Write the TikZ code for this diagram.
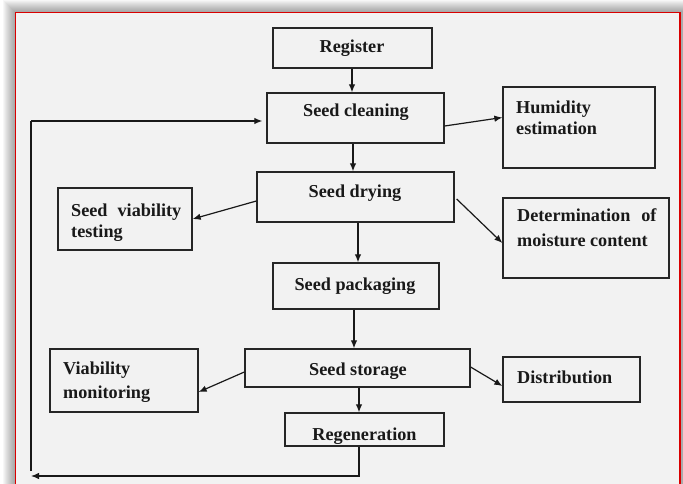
\documentclass[tikz,border=0pt]{standalone}
\usepackage{fontspec}
\setmainfont{Liberation Serif}
\usetikzlibrary{arrows.meta}
\begin{document}
\begin{tikzpicture}[x=1pt,y=-1pt,
  box/.style={draw=black!85, line width=1.3pt, fill=none, inner sep=0pt, minimum width=#1},
  lbl/.style={font=\fontsize{18.2}{22}\selectfont\bfseries, text=black!90, inner sep=0pt},
  arr/.style={draw=black!90, line width=1.2pt, -{Latex[length=8pt,width=6.5pt]}},
  ln/.style={draw=black!90, line width=1.2pt}]
\useasboundingbox (0,0) rectangle (683,484);
% outer shadow
\fill[white] (0,0) rectangle (683,484);
\foreach \i in {1,...,12} {\fill[black, opacity=0.03] (15-\i,12-\i) rectangle (690,500);}
% paper
\fill[black!5] (15,12) rectangle (680,490);
\draw[red!85!black, line width=1.5pt] (15.5,490) -- (15.5,12.5) -- (680,12.5) -- (680,490);
% boxes
\node[box=159pt, minimum height=40pt] (reg) at (352.5,48) {};
\node[box=177pt, minimum height=50pt] (clean) at (355.5,118) {};
\node[box=152pt, minimum height=81pt] (hum) at (579,127.5) {};
\node[box=197pt, minimum height=50pt] (dry) at (355.5,197) {};
\node[box=134pt, minimum height=62pt] (via) at (125,219) {};
\node[box=166pt, minimum height=80pt] (det) at (586,238) {};
\node[box=166pt, minimum height=46pt] (pack) at (356,286) {};
\node[box=225pt, minimum height=38pt] (stor) at (357.5,368) {};
\node[box=148pt, minimum height=63pt] (mon) at (124,380.5) {};
\node[box=137pt, minimum height=45pt] (dist) at (571.5,379.5) {};
\node[box=159pt, minimum height=33pt] (regen) at (364.5,429.5) {};
% labels
\node[lbl, anchor=base] (treg) at (352,53) {Register};
\node[lbl, anchor=base] (tclean) at (356,117) {Seed cleaning};
\node[lbl, anchor=base west] (thum1) at (516,114) {Humidity};
\node[lbl, anchor=base west] (thum2) at (516,135) {estimation};
\node[lbl, anchor=base] (tdry) at (355,197) {Seed drying};
\node[lbl, anchor=base west] (tvia1) at (71,216) {Seed\hspace{0.55em}viability};
\node[lbl, anchor=base west] (tvia2) at (71,237) {testing};
\node[lbl, anchor=base west] (tdet1) at (517,222) {Determination\hspace{0.6em}of};
\node[lbl, anchor=base west] (tdet2) at (517,246) {moisture content};
\node[lbl, anchor=base] (tpack) at (355,290) {Seed packaging};
\node[lbl, anchor=base] (tstor) at (358,375) {Seed storage};
\node[lbl, anchor=base west] (tmon1) at (63,374) {Viability};
\node[lbl, anchor=base west] (tmon2) at (63,398) {monitoring};
\node[lbl, anchor=base west] (tdist) at (517,383) {Distribution};
\node[lbl, anchor=base] (tregen) at (364.5,440) {Regeneration};
% connectors
\draw[arr] ([xshift=-0.5pt]reg.south) -- ([xshift=-0.5pt]reg.south |- clean.north);
\draw[arr] ([xshift=-2.5pt]clean.south) -- ([xshift=-2.5pt]clean.south |- dry.north);
\draw[arr] ([yshift=-8pt]clean.east) -- ([yshift=10pt]hum.west);
\draw[arr] ([yshift=-4pt]dry.west) -- (via.east);
\draw[arr] ([xshift=2pt,yshift=-2pt]dry.east) -- ([yshift=-5pt]det.west);
\draw[arr] ([xshift=2.5pt]dry.south) -- ([xshift=2.5pt]dry.south |- pack.north);
\draw[arr] ([xshift=-2pt]pack.south) -- ([xshift=-2pt]pack.south |- stor.north);
\draw[arr] ([yshift=-4pt]stor.west) -- ([yshift=-11.5pt]mon.east);
\draw[arr] ([yshift=1pt]stor.east) -- ([yshift=-6.5pt]dist.west);
\draw[arr] ([xshift=1.5pt]stor.south) -- ([xshift=1.5pt]stor.south |- regen.north);
\coordinate (lb) at (359,476);
\coordinate (lt) at (31,476);
\coordinate (ub) at (31,471);
\coordinate (ut) at (31,121);
\draw[arr] ([xshift=-5.5pt]regen.south) -- ([xshift=-5.5pt]regen.south |- lb) -- (lt);
\draw[ln] (ub) -- (ut);
\draw[arr] (ut) -- ([yshift=-3pt,xshift=-4pt]clean.west);
\end{tikzpicture}
\end{document}
